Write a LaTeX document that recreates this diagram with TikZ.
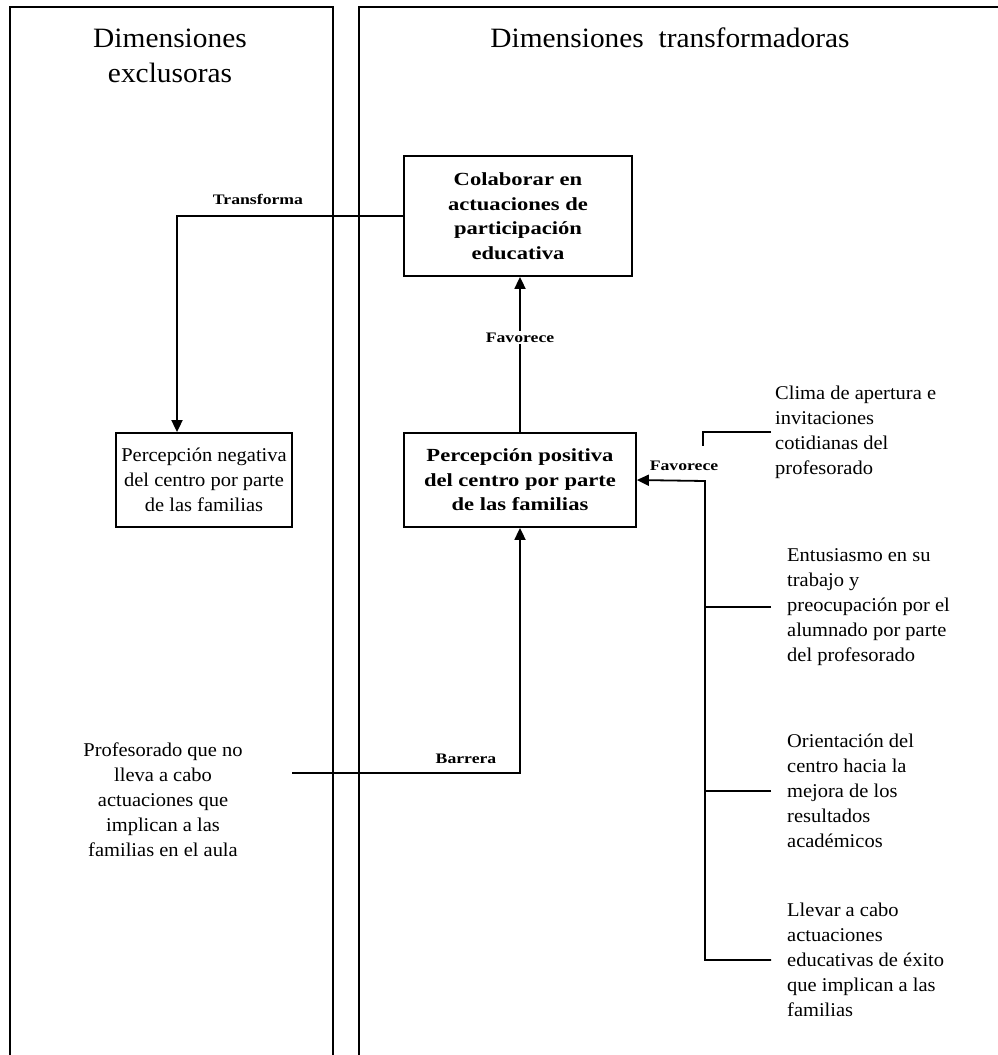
\documentclass[tikz,border=0pt]{standalone}
\usepackage{fontspec}
\setmainfont{Liberation Serif}[FakeStretch=1.05]
\newfontfamily\wideserif{Liberation Serif}[FakeStretch=1.22]
\usetikzlibrary{arrows.meta}

\tikzset{
  body/.style={font=\fontsize{19.5}{25}\selectfont, inner sep=0pt},
  heading/.style={font=\fontsize{28}{35}\selectfont, inner sep=0pt, align=center},
  boxed/.style={draw, line width=1.8pt, inner sep=0pt, align=center},
  strong/.style={font=\wideserif\bfseries\fontsize{18.5}{24.5}\selectfont},
  lbl/.style={font=\wideserif\bfseries\fontsize{14.5}{17}\selectfont, inner sep=1.5pt},
  link/.style={line width=1.8pt},
  arr/.style={link, -{Triangle[length=12pt,width=11pt]}},
  panel/.style={line width=1.8pt}
}

\begin{document}
\begin{tikzpicture}[x=1pt, y=-1pt]
  \useasboundingbox (0,0) rectangle (998,1055);

  % two column frames, open at the bottom
  \draw[panel] (10,1055) -- (10,7) -- (333,7) -- (333,1055);
  \draw[panel] (359,1055) -- (359,7) -- (998,7);

  % column headings
  \node[heading] (hleft) at (170,56) {Dimensiones\\exclusoras};
  \node[heading] (hright) at (670,38) {Dimensiones\ \ transformadoras};

  % central boxes
  \node[boxed, strong, minimum width=228pt, minimum height=120pt] (colab) at (518,216)
    {Colaborar en\\actuaciones de\\participación\\educativa};
  \node[boxed, strong, minimum width=232pt, minimum height=94pt] (pos) at (520,480)
    {Percepción positiva\\del centro por parte\\de las familias};
  \node[boxed, body, align=center, minimum width=176pt, minimum height=94pt] (neg) at (204,480)
    {Percepción negativa\\del centro por parte\\de las familias};

  % free-standing factors
  \node[body, align=center, minimum width=258pt] (prof) at (163,800)
    {Profesorado que no\\lleva a cabo\\actuaciones que\\implican a las\\familias en el aula};
  \node[body, align=left, anchor=west] (clima) at (775,432)
    {Clima de apertura e\\invitaciones\\cotidianas del\\profesorado};
  \node[body, align=left, anchor=west] (ent) at (787,607)
    {Entusiasmo en su\\trabajo y\\preocupación por el\\alumnado por parte\\del profesorado};
  \node[body, align=left, anchor=west] (ori) at (787,791)
    {Orientación del\\centro hacia la\\mejora de los\\resultados\\académicos};
  \node[body, align=left, anchor=west] (lle) at (787,960)
    {Llevar a cabo\\actuaciones\\educativas de éxito\\que implican a las\\familias};

  % connectors
  \draw[arr] (colab.west) -| ([xshift=-27pt]neg.north);
  \node[lbl] (ltrans) at (258,199) {Transforma};

  \draw[arr] (pos.north) -- (colab.south -| pos.north)
    node[lbl, fill=white, pos=0.61] (lfav1) {Favorece};

  \draw[arr] ([yshift=27pt]prof.east) -| (pos.south);
  \node[lbl] (lbar) at (466,759) {Barrera};

  \coordinate (bus) at (705,481);
  \draw[arr] ([xshift=-16pt]lle.west) -| (bus) -- (pos.east);
  \draw[link] ([xshift=-16pt]ent.west) -- (ent.west -| bus);
  \draw[link] ([xshift=-16pt]ori.west) -- (ori.west -| bus);
  \coordinate (hook) at (703,446);
  \draw[link] ([xshift=-4pt]clima.west) -| (hook);
  \node[lbl] (lfav2) at (684,466) {Favorece};
\end{tikzpicture}
\end{document}
